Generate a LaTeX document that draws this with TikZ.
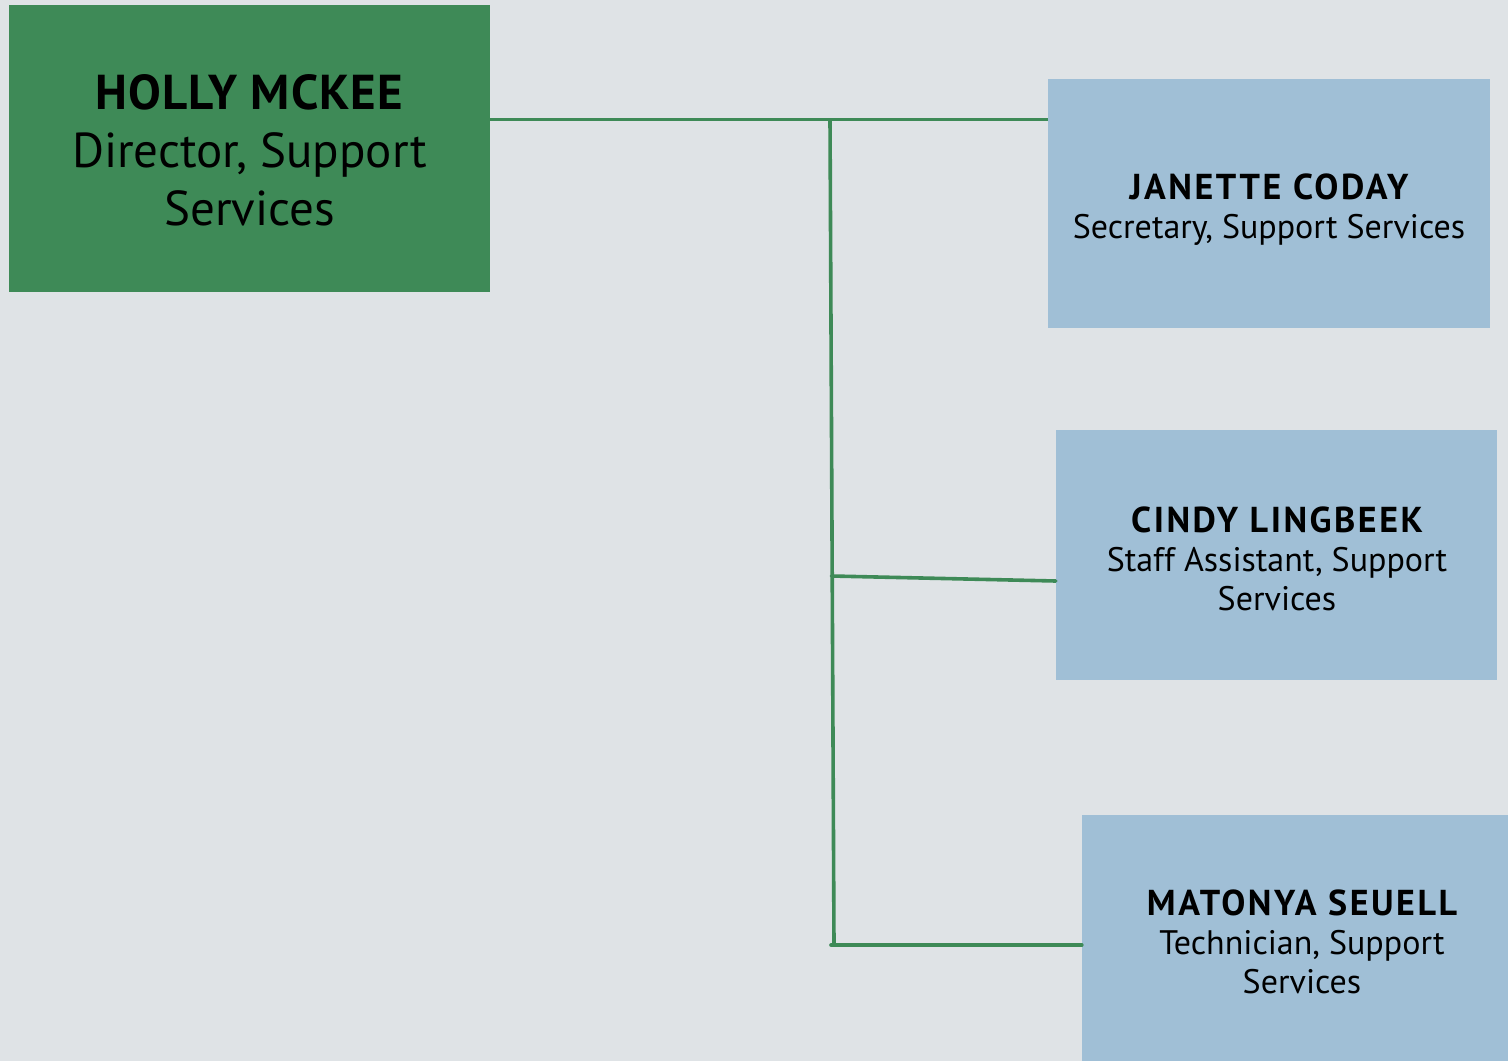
\documentclass[tikz,border=0pt]{standalone}
\usepackage{fontspec}
\setmainfont{PT Sans}
\definecolor{bgc}{RGB}{223,227,230}
\definecolor{boss}{RGB}{62,138,87}
\definecolor{staff}{RGB}{160,191,214}
\definecolor{wire}{RGB}{62,138,87}
\tikzset{
  bossbox/.style={fill=boss, draw=none, minimum width=481pt, minimum height=287pt, inner sep=0pt},
  staffbox/.style={fill=staff, draw=none, inner sep=0pt},
  bosstext/.style={align=center, inner sep=0pt, text=black, font=\fontsize{49}{58}\selectfont},
  stafftext/.style={align=center, inner sep=0pt, text=black, font=\fontsize{34}{39}\selectfont},
  wireline/.style={draw=wire, line width=3.6pt, line cap=round}
}
\newcommand{\bossname}[1]{{\bfseries\fontsize{49}{58}\selectfont\addfontfeature{LetterSpace=2}#1}}
\newcommand{\staffname}[1]{{\bfseries\fontsize{36}{40}\selectfont\addfontfeature{LetterSpace=7}#1}}
\begin{document}
\begin{tikzpicture}[x=1pt,y=-1pt]
\fill[bgc] (0,0) rectangle (1508,1061);
\useasboundingbox (0,0) rectangle (1508,1061);
\begin{scope}
\clip (0,0) rectangle (1508,1061);
\node[bossbox] (holly) at (249.5,148.5) {};
\node[bosstext] (hollytext) at (249.5,150) {\bossname{HOLLY MCKEE}\\Director, Support\\Services};
\node[staffbox, minimum width=442pt, minimum height=249pt] (janette) at (1269,203.5) {};
\node[stafftext] (janettetext) at (1269,210) {\staffname{JANETTE CODAY}\\Secretary, Support Services};
\node[staffbox, minimum width=441pt, minimum height=250pt] (cindy) at (1276.5,555) {};
\node[stafftext] (cindytext) at (1277,559) {\staffname{CINDY LINGBEEK}\\Staff Assistant, Support\\Services};
\node[staffbox, minimum width=426pt, minimum height=246pt] (matonya) at (1295,938) {};
\node[stafftext] (matonyatext) at (1302,942) {\staffname{MATONYA SEUELL}\\Technician, Support\\Services};
\end{scope}
\coordinate (jtop) at (830,119.5);
\coordinate (jmid) at (831.5,576);
\coordinate (jbot) at (834,945);
\draw[wireline, line cap=butt] (holly.east |- jtop) -- (janette.west |- jtop);
\draw[wireline, line cap=butt] (jtop) -- (jbot);
\draw[wireline] (jmid) -- (cindy.west |- 0,581);
\draw[wireline] (831,945) -- (matonya.west |- jbot);
\end{tikzpicture}
\end{document}
